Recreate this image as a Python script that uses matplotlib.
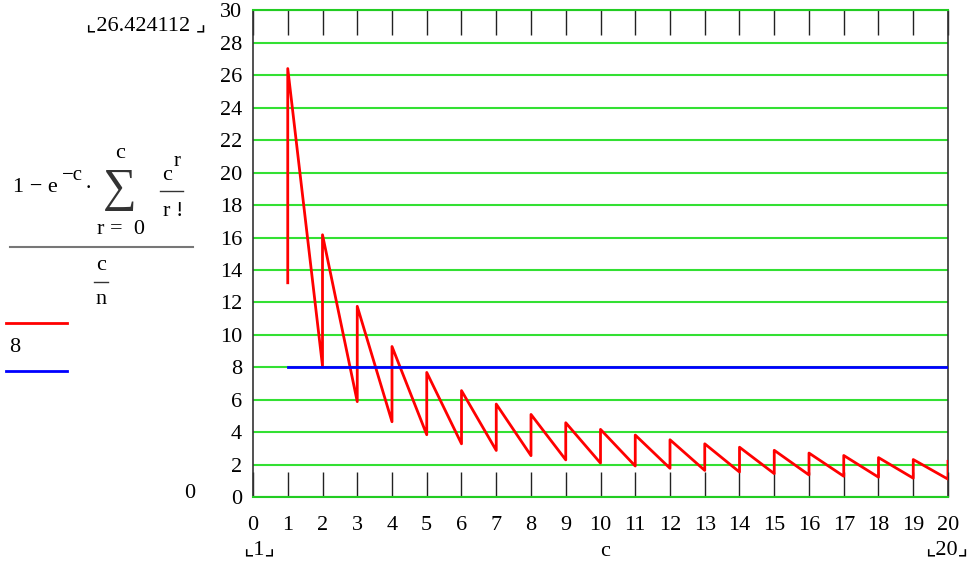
import matplotlib
matplotlib.use("Agg")
import matplotlib.pyplot as plt
from matplotlib.lines import Line2D

plt.rcParams['font.family'] = ['Liberation Serif', 'DejaVu Sans']

# data
c_values = list(range(1, 21))
upper_values = [26.42, 16.17, 11.76, 9.28, 7.68, 6.56, 5.73, 5.09, 4.58, 4.17,
                3.82, 3.53, 3.28, 3.07, 2.88, 2.71, 2.56, 2.43, 2.31, 2.20]
lower_values = [13.21, 8.08, 5.88, 4.64, 3.84, 3.28, 2.87, 2.55, 2.29, 2.09,
                1.91, 1.77, 1.64, 1.54, 1.44, 1.36, 1.28, 1.22, 1.16, 1.10]
constant_value = 8
x_ticks = list(range(0, 21))
y_ticks = list(range(0, 31, 2))

FS = 16
W, H = 974, 565
fig = plt.figure(figsize=(W / 100, H / 100), dpi=100)
ax = fig.add_axes([253 / W, 1 - 497 / H, (948 - 253) / W, (497 - 10.5) / H])

# red sawtooth
xs, ys = [], []
for c, lo, hi in zip(c_values, lower_values, upper_values):
    xs += [c, c]
    ys += [lo, hi]
ax.plot(xs, ys, color='#ff0000', lw=2, zorder=3)
ax.plot([c_values[0], c_values[-1]], [constant_value, constant_value],
        color='#0000ff', lw=2, zorder=3)

ax.set_xlim(0, 20)
ax.set_ylim(0, 30)
for yv in y_ticks:
    ax.axhline(yv, color='#33e033', lw=1.5, zorder=1)
ax.set_yticks(y_ticks)
ax.set_xticks(x_ticks)
ax.tick_params(axis='x', direction='in', length=18, width=1, top=True, bottom=True,
               labelsize=FS, pad=14, color='#222222')
ax.tick_params(axis='y', length=0, labelsize=FS, pad=8)
for s in ['left', 'right']:
    ax.spines[s].set_color('#333333')
    ax.spines[s].set_linewidth(1.2)
for s in ['top', 'bottom']:
    ax.spines[s].set_color('#22cc22')
    ax.spines[s].set_linewidth(1.5)


def T(x, y, s, size=FS, **kw):
    fig.text(x / W, 1 - y / H, s, fontsize=size, va='center', **kw)


# limit labels
T(86, 26, "\u231e26.424112 \u231f", ha='left')
T(190, 493, "0", ha='center')
T(259, 550, "\u231e1\u231f", ha='center')
T(605, 551, "c", ha='center')
T(947, 550, "\u231e20\u231f", ha='center')

# formula
T(13, 188, "1 \u2212 e", ha='left')
T(62, 176, "\u2212c", ha='left', size=FS - 1)
T(88, 189, "\u00b7", ha='center')
T(120, 190, "\u2211", ha='center', size=34, color='#333333')
T(120, 153, "c", ha='center')
T(121, 230, "r =  0", ha='center')
T(167, 176, "c", ha='center')
T(177, 162, "r", ha='center', size=FS - 1)
fig.add_artist(Line2D([160 / W, 183 / W], [1 - 191 / H, 1 - 191 / H], color='#333333', lw=1))
T(173, 211, "r !", ha='center')
fig.add_artist(Line2D([10 / W, 193 / W], [1 - 247 / H, 1 - 247 / H], color='#777777', lw=1.5))
T(101, 266, "c", ha='center')
fig.add_artist(Line2D([94 / W, 108 / W], [1 - 282 / H, 1 - 282 / H], color='#333333', lw=1))
T(101, 300, "n", ha='center')

# legend marks
fig.add_artist(Line2D([6 / W, 67 / W], [1 - 323 / H, 1 - 323 / H], color='#ff0000', lw=2))
T(15, 348, "8", ha='center')
fig.add_artist(Line2D([6 / W, 67 / W], [1 - 371 / H, 1 - 371 / H], color='#0000ff', lw=2))

fig.savefig("out.png", dpi=100)
